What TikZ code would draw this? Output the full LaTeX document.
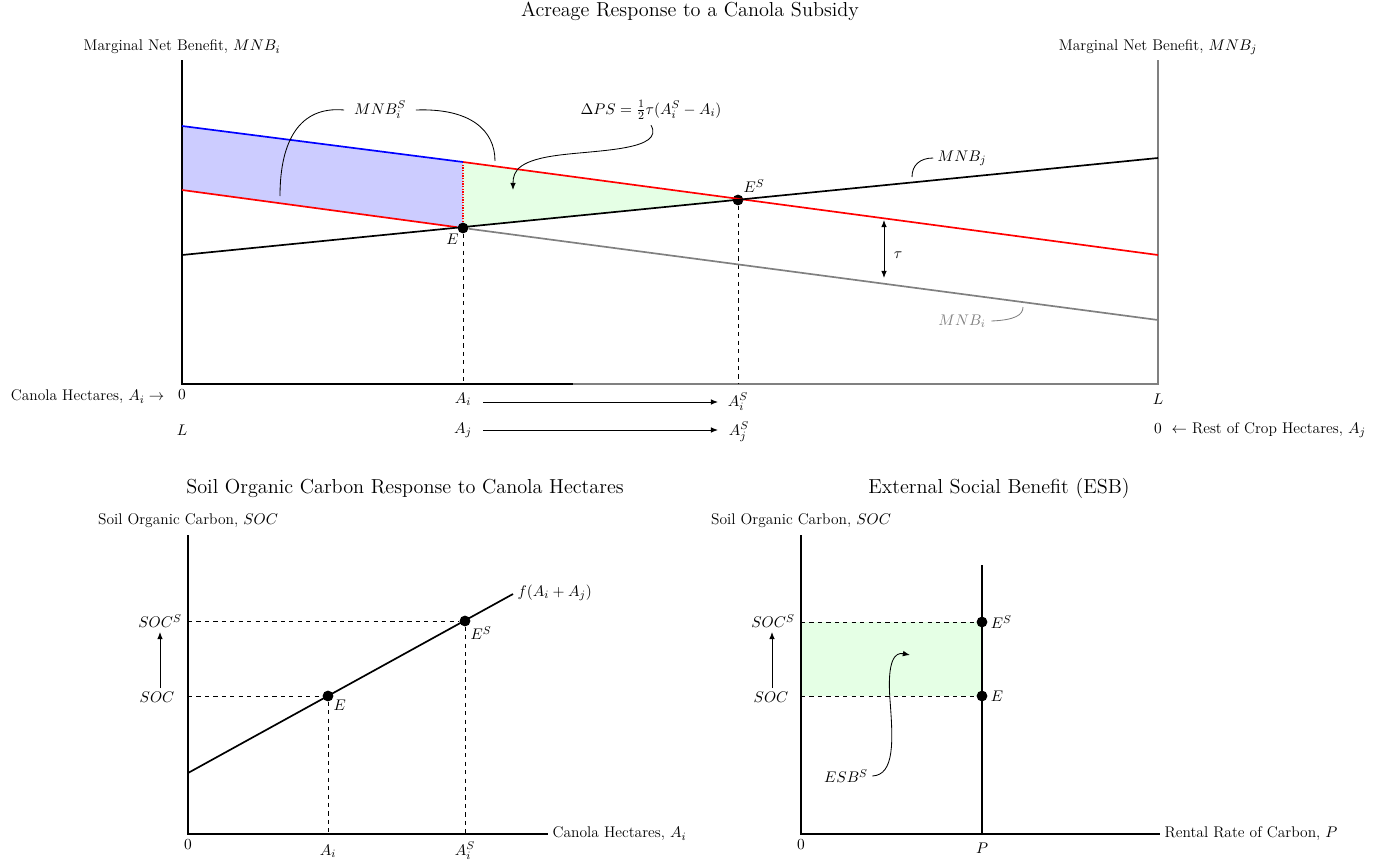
\documentclass[tikz,border=0pt]{standalone}
\usepackage{amsmath,amssymb}
\usepackage{tikz}
\usetikzlibrary{arrows.meta,positioning,calc}
\tikzset{
  axis/.style={draw=black,line width=.9pt},
  grayaxis/.style={draw=gray,line width=.9pt},
  curve/.style={line width=1.2pt},
  guide/.style={draw=black,dashed,line width=.7pt},
  pointer/.style={draw=black,line width=.6pt},
  tip/.style={-{Latex[length=1.8mm,width=1.4mm]}},
  dot/.style={circle,fill=black,inner sep=0pt,minimum size=2.7mm},
  lbl/.style={inner sep=1pt},
  title/.style={font=\fontsize{14.4}{17}\selectfont}
}
\begin{document}
\begin{tikzpicture}[x=0.025cm,y=-0.025cm,font=\fontsize{11}{13}\selectfont]
    \useasboundingbox (0,0) rectangle (1373,861);
    % top panel: acreage response
    \node[title] (ttop) at (690,11) {Acreage Response to a Canola Subsidy};
    \node[lbl] (yi) at (182,47) {Marginal Net Benefit, $MNB_i$};
    \node[lbl] (yj) at (1158,47) {Marginal Net Benefit, $MNB_j$};
    \coordinate (o) at (182,384);
    \coordinate (mid) at (573,384);
    \coordinate (r) at (1158,384);
    \fill[blue!20] (182,126) -- (463,162) -- (463,228) -- (182,190) -- cycle;
    \fill[green!10] (463,162) -- (738,200) -- (463,228) -- cycle;
    \draw[axis] (182,60) -- (o) -- (mid);
    \draw[grayaxis] (mid) -- (r) -- (1158,60);
    \node[dot] (E) at (463,228) {};
    \node[dot] (ES) at (738,200) {};
    \draw[guide] (E) -- (E |- o);
    \draw[guide] (ES) -- (ES |- o);
    \draw[red,densely dotted,line width=.9pt] (463,162) -- (E);
    \draw[curve,blue] (182,126) -- (463,162);
    \draw[curve,red] (463,162) -- (1158,255);
    \draw[curve,red] (182,190) -- (E);
    \draw[curve,gray] (E) -- (1158,320);
    \draw[curve,black] (182,255) -- (1158,158);
    \node[lbl,below left=0pt and -1pt of E] (Elbl) {$E$};
    \node[lbl,above right=1pt and 0pt of ES] (ESlbl) {$E^S$};
    \node[lbl,inner xsep=7pt] (mnbis) at (380,110) {$MNB_i^S$};
    \draw[pointer] (mnbis.west) .. controls (300,106) and (280,140) .. (280,196);
    \draw[pointer] (mnbis.east) .. controls (470,108) and (495,130) .. (495,161);
    \node[lbl,inner ysep=4pt] (dps) at (651,110) {$\Delta PS=\frac{1}{2}\tau(A_i^S-A_i)$};
    \draw[pointer,tip] (dps.south) .. controls (665,150) and (600,150) .. (560,155) .. controls (520,160) and (513,170) .. (513,190);
    \node[lbl,inner xsep=3pt] (mnbj) at (962,158) {$MNB_j$};
    \draw[pointer] (mnbj.west) .. controls (920,158) and (912,165) .. (912,177);
    \node[lbl,inner xsep=4pt,text=gray] (mnbi) at (962,321) {$MNB_i$};
    \draw[pointer,gray] (mnbi.east) .. controls (1015,320) and (1023,315) .. (1023,307);
    \coordinate (tautop) at (884,220);
    \coordinate (taubot) at (884,278);
    \draw[pointer,{Latex[length=1.8mm,width=1.4mm]}-{Latex[length=1.8mm,width=1.4mm]}] (tautop) -- (taubot);
    \node[lbl] (tau) at (898,255) {$\tau$};
    % tick labels
    \node[lbl,anchor=north] (zeroi) at (182,388) {$0$};
    \node[lbl,anchor=east] (canola) at (166,397) {Canola Hectares, $A_i\rightarrow$};
    \node[lbl] (Ai) at (463,399) {$A_i$};
    \node[lbl] (AiS) at (738,402) {$A_i^S$};
    \coordinate (aistart) at (483,402);
    \coordinate (aiend) at (718,402);
    \draw[pointer,tip] (aistart) -- (aiend);
    \node[lbl] (Li) at (1158,399) {$L$};
    \node[lbl] (Lj) at (182,430) {$L$};
    \node[lbl] (Aj) at (463,430) {$A_j$};
    \node[lbl] (AjS) at (739,432) {$A_j^S$};
    \coordinate (ajstart) at (483,430);
    \coordinate (ajend) at (718,430);
    \draw[pointer,tip] (ajstart) -- (ajend);
    \node[lbl] (zeroj) at (1158,429) {$0$};
    \node[lbl,anchor=west] (rest) at (1170,430) {$\leftarrow$ Rest of Crop Hectares, $A_j$};
    % bottom left: soil organic carbon
    \node[title] (tsoc) at (405,488) {Soil Organic Carbon Response to Canola Hectares};
    \node[lbl] (ysoc) at (188,521) {Soil Organic Carbon, $SOC$};
    \coordinate (o2) at (188,834);
    \draw[axis] (188,535) -- (o2) -- (548,834);
    \node[lbl,anchor=west] (xcan) at (551,834) {Canola Hectares, $A_i$};
    \draw[curve] (188,773) -- (513,594) coordinate (fend);
    \node[lbl,anchor=west] (flbl) at (516,593) {$f(A_i+A_j)$};
    \node[dot] (E2) at (328,696) {};
    \node[dot] (ES2) at (465,621) {};
    \draw[guide] (E2 -| o2) -- (E2) -- (E2 |- o2);
    \draw[guide] (ES2 -| o2) -- (ES2) -- (ES2 |- o2);
    \node[lbl,below right=-1pt and 0pt of E2] (E2lbl) {$E$};
    \node[lbl,below right=0pt and 0pt of ES2] (ES2lbl) {$E^S$};
    \node[lbl] (socS) at (160,621) {$SOC^S$};
    \node[lbl] (soc) at (157,697) {$SOC$};
    \coordinate (socup) at (160,688);
    \coordinate (socstop) at (160,632);
    \draw[pointer,tip] (socup) -- (socstop);
    \node[lbl,anchor=north] (zero2) at (188,838) {$0$};
    \node[lbl] (Ai2) at (328,851) {$A_i$};
    \node[lbl] (AiS2) at (465,851) {$A_i^S$};
    % bottom right: external social benefit
    \node[title] (tesb) at (999,488) {External Social Benefit (ESB)};
    \node[lbl] (ysoc3) at (801,521) {Soil Organic Carbon, $SOC$};
    \coordinate (o3) at (801,834);
    \fill[green!10] (801,622) rectangle (982,696);
    \draw[axis] (801,535) -- (o3) -- (1160,834);
    \node[lbl,anchor=west] (xrent) at (1163,834) {Rental Rate of Carbon, $P$};
    \draw[curve] (982,565) -- (982,834);
    \node[dot] (ES3) at (982,622) {};
    \node[dot] (E3) at (982,696) {};
    \draw[guide] (ES3 -| o3) -- (ES3);
    \draw[guide] (E3 -| o3) -- (E3);
    \node[lbl,right=1pt of ES3] (ES3lbl) {$E^S$};
    \node[lbl,right=1pt of E3] (E3lbl) {$E$};
    \node[lbl] (socS3) at (773,621) {$SOC^S$};
    \node[lbl] (soc3) at (771,697) {$SOC$};
    \coordinate (soc3up) at (772,688);
    \coordinate (soc3stop) at (772,632);
    \draw[pointer,tip] (soc3up) -- (soc3stop);
    \node[lbl,inner xsep=3pt] (esb) at (846,776) {$ESB^S$};
    \draw[pointer,tip] (esb.east) .. controls (895,775) and (893,740) .. (890,700) .. controls (887,660) and (895,652) .. (910,655);
    \node[lbl,anchor=north] (zero3) at (801,838) {$0$};
    \node[lbl] (P3) at (982,848) {$P$};
  \end{tikzpicture}
\end{document}
